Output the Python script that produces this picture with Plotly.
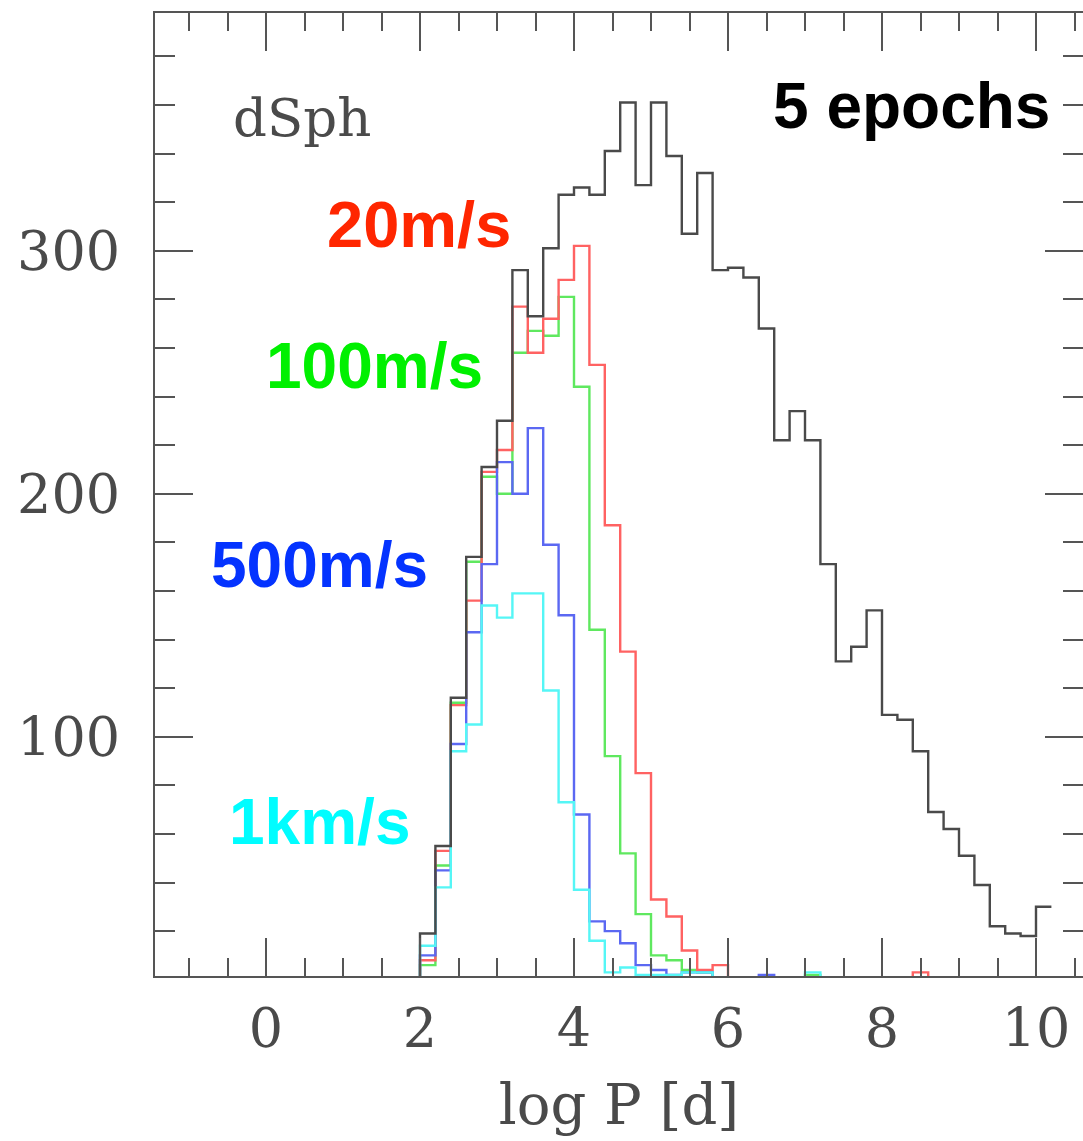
import plotly.graph_objects as go

# ---------------- data ----------------
# left edges of log P bins (bin width 0.2), last right edge = 10.2
log_p_bins = [2.0, 2.2, 2.4, 2.6, 2.8, 3.0, 3.2, 3.4, 3.6, 3.8,
              4.0, 4.2, 4.4, 4.6, 4.8, 5.0, 5.2, 5.4, 5.6, 5.8,
              6.0, 6.2, 6.4, 6.6, 6.8, 7.0, 7.2, 7.4, 7.6, 7.8,
              8.0, 8.2, 8.4, 8.6, 8.8, 9.0, 9.2, 9.4, 9.6, 9.8,
              10.0]
log_p_last_edge = 10.2

all_binaries = [19, 55, 116, 174, 211, 230, 292, 273, 301, 323,
                326, 323, 341, 361, 327, 361, 339, 307, 332, 292,
                293, 289, 268, 222, 234, 222, 171, 131, 137, 152,
                109, 107, 94, 69, 62, 51, 39, 22, 19, 18,
                30]

det_20ms = [8, 53, 113, 156, 209, 218, 277, 258, 272, 288,
            302, 253, 187, 135, 85, 33, 26, 12, 4, 6,
            0, 0, 0, 0, 0, 0, 0, 0, 0, 0,
            0, 0, 3, 0, 0, 0, 0, 0, 0, 0,
            0]

det_100ms = [6, 47, 114, 172, 207, 200, 258, 267, 265, 281,
             244, 144, 92, 52, 27, 10, 8, 4, 3, 1,
             0, 0, 0, 0, 0, 2, 0, 0, 0, 0,
             0, 0, 0, 0, 0, 0, 0, 0, 0, 0,
             0]

det_500ms = [10, 45, 97, 143, 171, 213, 200, 227, 179, 150,
             68, 24, 20, 15, 6, 4, 2, 3, 3, 0,
             1, 0, 2, 0, 0, 0, 0, 0, 0, 0,
             0, 0, 0, 0, 1, 0, 0, 0, 0, 0,
             0]

det_1kms = [14, 38, 94, 105, 154, 149, 159, 159, 119, 73,
            37, 16, 3, 5, 2, 2, 2, 3, 3, 0,
            0, 0, 0, 0, 0, 3, 0, 0, 0, 0,
            0, 0, 0, 0, 0, 0, 0, 0, 0, 0,
            0]

x_tick_vals = [0, 2, 4, 6, 8, 10]
y_tick_vals = [100, 200, 300]

# ---------------- geometry helpers ----------------
W, H = 1083, 1141
PL, PR, PT, PB = 155, 1083, 13, 976   # plot area in pixels


def px_to_paper(px, py):
    return (px - PL) / (PR - PL), (PB - py) / (PB - PT)


def step_xy(vals):
    xs = [log_p_bins[0]] + list(log_p_bins) + [log_p_last_edge]
    ys = [0] + list(vals) + [vals[-1]]
    return xs, ys


fig = go.Figure()

series = [
    (det_100ms, "#5fe85f", "100 m/s"),
    (det_20ms, "#ff6262", "20 m/s"),
    (det_500ms, "#5b68f2", "500 m/s"),
    (det_1kms, "#55f6f6", "1 km/s"),
    (all_binaries, "#4a4a4a", "all"),
]
for vals, col, name in series:
    xs, ys = step_xy(vals)
    fig.add_trace(go.Scatter(x=xs, y=ys, mode="lines", name=name,
                             line=dict(color=col, width=2.4, shape="hv"),
                             showlegend=False, hoverinfo="skip"))

# empty trace so that the right-hand tick axis is drawn
fig.add_trace(go.Scatter(x=[None], y=[None], yaxis="y2", mode="lines",
                         showlegend=False, hoverinfo="skip"))

axis_col = "#555555"
tick_font = dict(family="DejaVu Serif", size=54, color="#4a4a4a")
y_range = [100 - (PB - 736.7) / 2.43, 100 + (736.7 - PT) / 2.43]

fig.update_layout(
    width=W, height=H,
    margin=dict(l=PL, r=W - PR, t=PT, b=H - PB, pad=0),
    paper_bgcolor="white", plot_bgcolor="white",
    showlegend=False,
    xaxis=dict(
        range=[(PL - 266) / 77.0, (PR - 266) / 77.0],
        tickmode="array", tickvals=x_tick_vals,
        ticktext=[str(v) for v in x_tick_vals],
        ticks="inside", ticklen=38, tickwidth=2, tickcolor=axis_col,
        showline=True, linecolor=axis_col, linewidth=2, mirror="ticks",
        minor=dict(dtick=0.5, tick0=0, ticks="inside", ticklen=18,
                   tickwidth=2, tickcolor=axis_col, showgrid=False),
        showgrid=False, zeroline=False,
        tickfont=tick_font, ticklabelstandoff=4,
        title=dict(text="log P [d]", standoff=26,
                   font=dict(family="DejaVu Serif", size=56, color="#4a4a4a")),
    ),
    yaxis=dict(
        range=y_range,
        tickmode="array", tickvals=y_tick_vals,
        ticktext=[str(v) for v in y_tick_vals],
        ticks="inside", ticklen=38, tickwidth=2, tickcolor=axis_col,
        showline=True, linecolor=axis_col, linewidth=2, mirror=False,
        minor=dict(dtick=20, tick0=0, ticks="inside", ticklen=20,
                   tickwidth=2, tickcolor=axis_col, showgrid=False),
        showgrid=False, zeroline=False,
        tickfont=tick_font, ticklabelstandoff=22,
    ),
    yaxis2=dict(
        range=y_range, overlaying="y", side="right", anchor="x",
        tickmode="array", tickvals=y_tick_vals,
        ticks="inside", ticklen=38, tickwidth=2, tickcolor=axis_col,
        showline=False, showticklabels=False,
        minor=dict(dtick=20, tick0=0, ticks="inside", ticklen=20,
                   tickwidth=2, tickcolor=axis_col, showgrid=False),
        showgrid=False, zeroline=False,
    ),
)

# text labels
labels = [
    ("dSph", 302, 117, dict(family="DejaVu Serif", size=53, color="#4a4a4a")),
    ("5 epochs", 911, 106, dict(family="Liberation Sans", size=64, color="#000000", weight="bold")),
    ("20m/s", 419, 224, dict(family="Liberation Sans", size=65, color="#FF2600", weight="bold")),
    ("100m/s", 374, 366, dict(family="Liberation Sans", size=64, color="#00F000", weight="bold")),
    ("500m/s", 319, 565, dict(family="Liberation Sans", size=64, color="#0433FF", weight="bold")),
    ("1km/s", 319, 822, dict(family="Liberation Sans", size=64, color="#00FDFF", weight="bold")),
]
for txt, px, py, fnt in labels:
    ax_, ay_ = px_to_paper(px, py)
    fig.add_annotation(text=txt, x=ax_, y=ay_, xref="paper", yref="paper",
                       xanchor="center", yanchor="middle", showarrow=False,
                       font=fnt)

fig.write_html("out.html")
